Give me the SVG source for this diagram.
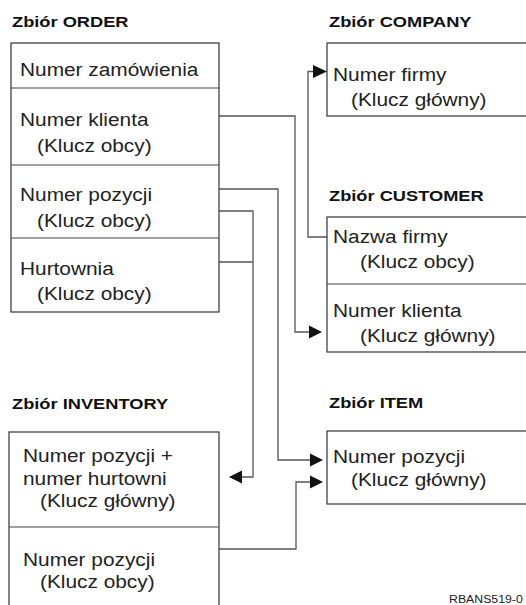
<svg xmlns="http://www.w3.org/2000/svg" width="526" height="605" viewBox="0 0 526 605">
<style>
.bg{fill:#ffffff}
.box{fill:#ffffff;stroke:#333333;stroke-width:1.2}
.div{stroke:#444444;stroke-width:1.2;fill:none}
.conn{fill:none;stroke:#555555;stroke-width:1.3}
.arrow{fill:#111111;stroke:none}
.t{font-family:"Liberation Sans",Arial,Helvetica,sans-serif;font-size:17.6px;fill:#222222}
.h{font-family:"Liberation Sans",Arial,Helvetica,sans-serif;font-size:15.4px;font-weight:bold;fill:#111111}
.f{font-family:"Liberation Sans",Arial,Helvetica,sans-serif;font-size:11.3px;fill:#222222}
</style>
<rect class="bg" x="0" y="0" width="526" height="605"/>

<g id="connectors">
  <path class="conn" d="M219,116 H295 V332 H311"/>
  <polygon class="arrow" points="309,325.5 322,332 309,338.5"/>
  <path class="conn" d="M327,237 H308 V71.5 H315"/>
  <polygon class="arrow" points="313,65 327,71.5 313,78"/>
  <path class="conn" d="M219,189 H278 V460 H312"/>
  <polygon class="arrow" points="310,453.5 323,460 310,466.5"/>
  <path class="conn" d="M219,211 H253 V477 H240"/>
  <polygon class="arrow" points="242,470.5 229,477 242,483.5"/>
  <path class="conn" d="M219,262 H253"/>
  <path class="conn" d="M219,549 H296 V482 H312"/>
  <polygon class="arrow" points="310,475.5 323,482 310,488.5"/>
</g>

<g id="order">
  <text class="h" transform="translate(12,27) scale(1.185,1)">Zbiór ORDER</text>
  <rect class="box" x="11" y="43" width="208" height="269"/>
  <line class="div" x1="11" y1="88" x2="219" y2="88"/>
  <line class="div" x1="11" y1="165" x2="219" y2="165"/>
  <line class="div" x1="11" y1="238" x2="219" y2="238"/>
  <text class="t" transform="translate(20,76) scale(1.185,1)">Numer zamówienia</text>
  <text class="t" transform="translate(20,126) scale(1.185,1)">Numer klienta</text>
  <text class="t" transform="translate(37,152) scale(1.185,1)">(Klucz obcy)</text>
  <text class="t" transform="translate(20,201) scale(1.185,1)">Numer pozycji</text>
  <text class="t" transform="translate(37,227) scale(1.185,1)">(Klucz obcy)</text>
  <text class="t" transform="translate(20,275) scale(1.185,1)">Hurtownia</text>
  <text class="t" transform="translate(37,300) scale(1.185,1)">(Klucz obcy)</text>
</g>

<g id="company">
  <text class="h" transform="translate(329,27) scale(1.185,1)">Zbiór COMPANY</text>
  <rect class="box" x="327" y="43" width="220" height="73"/>
  <text class="t" transform="translate(333,81) scale(1.185,1)">Numer firmy</text>
  <text class="t" transform="translate(351,106) scale(1.185,1)">(Klucz główny)</text>
</g>

<g id="customer">
  <text class="h" transform="translate(329,201) scale(1.185,1)">Zbiór CUSTOMER</text>
  <rect class="box" x="327" y="217" width="220" height="135"/>
  <line class="div" x1="327" y1="284" x2="547" y2="284"/>
  <text class="t" transform="translate(333,243) scale(1.185,1)">Nazwa firmy</text>
  <text class="t" transform="translate(360,268) scale(1.185,1)">(Klucz obcy)</text>
  <text class="t" transform="translate(333,317) scale(1.185,1)">Numer klienta</text>
  <text class="t" transform="translate(360,342) scale(1.185,1)">(Klucz główny)</text>
</g>

<g id="inventory">
  <text class="h" transform="translate(12,409) scale(1.185,1)">Zbiór INVENTORY</text>
  <rect class="box" x="9" y="432" width="210" height="190"/>
  <line class="div" x1="9" y1="527" x2="219" y2="527"/>
  <text class="t" transform="translate(23,462) scale(1.185,1)">Numer pozycji +</text>
  <text class="t" transform="translate(23,485) scale(1.185,1)">numer hurtowni</text>
  <text class="t" transform="translate(40,507) scale(1.185,1)">(Klucz główny)</text>
  <text class="t" transform="translate(23,566) scale(1.185,1)">Numer pozycji</text>
  <text class="t" transform="translate(40,588) scale(1.185,1)">(Klucz obcy)</text>
</g>

<g id="item">
  <text class="h" transform="translate(329,408) scale(1.185,1)">Zbiór ITEM</text>
  <rect class="box" x="327" y="431" width="220" height="73"/>
  <text class="t" transform="translate(333,463) scale(1.185,1)">Numer pozycji</text>
  <text class="t" transform="translate(351,486) scale(1.185,1)">(Klucz główny)</text>
</g>

<text id="footer" class="f" transform="translate(449,603) scale(1.09,1)">RBANS519-0</text>
</svg>
